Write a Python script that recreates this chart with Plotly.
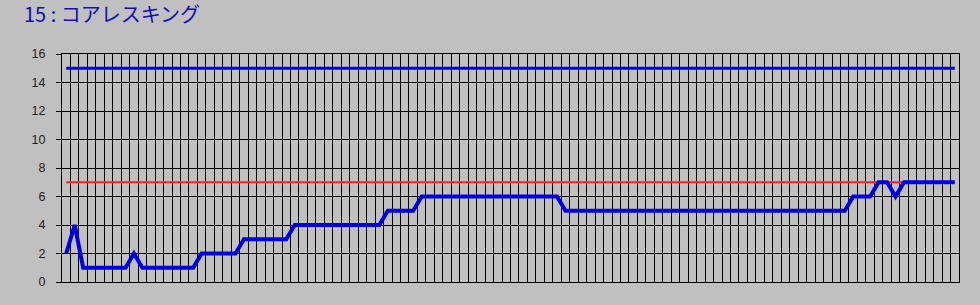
import plotly.graph_objects as go

title_text = "15 : コアレスキング"
categories = list(range(106))
series_values = [
    2, 4, 1, 1, 1, 1, 1, 1, 2, 1,
    1, 1, 1, 1, 1, 1, 2, 2, 2, 2,
    2, 3, 3, 3, 3, 3, 3, 4, 4, 4,
    4, 4, 4, 4, 4, 4, 4, 4, 5, 5,
    5, 5, 6, 6, 6, 6, 6, 6, 6, 6,
    6, 6, 6, 6, 6, 6, 6, 6, 6, 5,
    5, 5, 5, 5, 5, 5, 5, 5, 5, 5,
    5, 5, 5, 5, 5, 5, 5, 5, 5, 5,
    5, 5, 5, 5, 5, 5, 5, 5, 5, 5,
    5, 5, 5, 6, 6, 6, 7, 7, 6, 7,
    7, 7, 7, 7, 7, 7,
]
upper_values = [
    15, 15, 15, 15, 15, 15, 15, 15, 15, 15,
    15, 15, 15, 15, 15, 15, 15, 15, 15, 15,
    15, 15, 15, 15, 15, 15, 15, 15, 15, 15,
    15, 15, 15, 15, 15, 15, 15, 15, 15, 15,
    15, 15, 15, 15, 15, 15, 15, 15, 15, 15,
    15, 15, 15, 15, 15, 15, 15, 15, 15, 15,
    15, 15, 15, 15, 15, 15, 15, 15, 15, 15,
    15, 15, 15, 15, 15, 15, 15, 15, 15, 15,
    15, 15, 15, 15, 15, 15, 15, 15, 15, 15,
    15, 15, 15, 15, 15, 15, 15, 15, 15, 15,
    15, 15, 15, 15, 15, 15,
]
target_values = [
    7, 7, 7, 7, 7, 7, 7, 7, 7, 7,
    7, 7, 7, 7, 7, 7, 7, 7, 7, 7,
    7, 7, 7, 7, 7, 7, 7, 7, 7, 7,
    7, 7, 7, 7, 7, 7, 7, 7, 7, 7,
    7, 7, 7, 7, 7, 7, 7, 7, 7, 7,
    7, 7, 7, 7, 7, 7, 7, 7, 7, 7,
    7, 7, 7, 7, 7, 7, 7, 7, 7, 7,
    7, 7, 7, 7, 7, 7, 7, 7, 7, 7,
    7, 7, 7, 7, 7, 7, 7, 7, 7, 7,
    7, 7, 7, 7, 7, 7, 7, 7, 7, 7,
    7, 7, 7, 7, 7, 7,
]
y_ticks = [0, 2, 4, 6, 8, 10, 12, 14, 16]

fig = go.Figure()
fig.add_trace(go.Scatter(x=categories, y=target_values, mode="lines",
                         line=dict(color="#FF2020", width=2), hoverinfo="skip"))
fig.add_trace(go.Scatter(x=categories, y=upper_values, mode="lines",
                         line=dict(color="#0000E0", width=3), hoverinfo="skip"))
fig.add_trace(go.Scatter(x=categories, y=series_values, mode="lines",
                         line=dict(color="#0000E0", width=4), hoverinfo="skip"))

fig.update_layout(
    width=980, height=305,
    margin=dict(l=62, r=21, t=54, b=23),
    paper_bgcolor="#C0C0C0", plot_bgcolor="#C0C0C0",
    showlegend=False,
    annotations=[dict(text=title_text, xref="paper", yref="paper",
                      x=(22 - 62) / 897, y=1 + 40 / 228, xanchor="left", yanchor="middle",
                      showarrow=False,
                      font=dict(family="Noto Sans CJK JP", size=20, color="#1010B0"))],
)
fig.update_xaxes(range=[-0.5, 105.5], tick0=-0.5, dtick=1, showgrid=True,
                 gridcolor="black", gridwidth=1, showticklabels=False, ticks="",
                 showline=True, linecolor="black", linewidth=1, mirror=True,
                 zeroline=False, fixedrange=True)
fig.update_yaxes(range=[0, 16], tickvals=y_ticks, showgrid=True,
                 gridcolor="black", gridwidth=1, ticks="outside", ticklen=5,
                 tickcolor="black", tickwidth=1, ticklabelstandoff=8,
                 showline=True, linecolor="black", linewidth=1, mirror=True,
                 zeroline=False, fixedrange=True,
                 tickfont=dict(family="Liberation Sans", size=12.5, color="#202020"))

fig.write_html("out.html", config={"displayModeBar": False})
